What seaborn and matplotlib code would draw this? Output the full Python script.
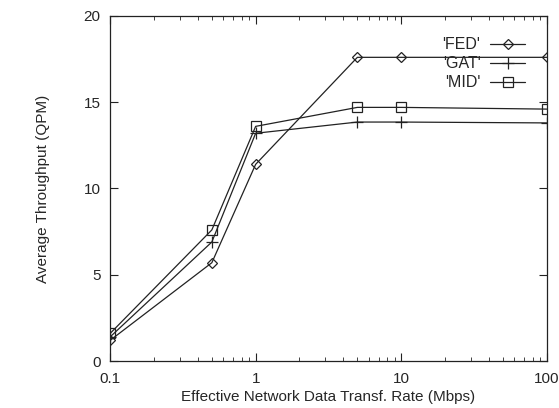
import numpy as np
import pandas as pd
import matplotlib
matplotlib.use('Agg')
import matplotlib.pyplot as plt
import seaborn as sns

rates = [0.1, 0.5, 1, 5, 10, 100]
fed = [1.2, 5.7, 11.4, 17.6, 17.6, 17.6]
gat = [1.4, 6.9, 13.2, 13.85, 13.85, 13.8]
mid = [1.6, 7.6, 13.6, 14.7, 14.7, 14.6]
series = ["'FED'", "'GAT'", "'MID'"]
markers = ['D', '+', 's']
msizes = [5, 8, 7]

df = pd.DataFrame({'rate': rates * 3,
                   'tput': fed + gat + mid,
                   'name': np.repeat(series, len(rates))})

sns.set_style('ticks')
plt.rcParams['font.family'] = ['Liberation Sans', 'DejaVu Sans']

fig, ax = plt.subplots(figsize=(5.59, 4.08), dpi=100)
for name, mk, ms in zip(series, markers, msizes):
    sub = df[df['name'] == name]
    sns.lineplot(data=sub, x='rate', y='tput', ax=ax, color='#222222', lw=0.9,
                 marker=mk, markersize=ms, markerfacecolor='none',
                 markeredgecolor='#222222', markeredgewidth=0.9, label=name)

ax.set_xscale('log')
ax.set_xlim(0.1, 100)
ax.set_ylim(0, 20)
ax.set_yticks([0, 5, 10, 15, 20])
ax.set_xticks([0.1, 1, 10, 100])
ax.set_xticklabels(['0.1', '1', '10', '100'])
ax.tick_params(which='both', direction='in', top=True, right=True, labelsize=11, color='#222222')
ax.tick_params(which='major', length=6)
ax.tick_params(which='minor', length=3)
ax.tick_params(axis='x', which='major', pad=8)
ax.tick_params(axis='y', which='major', pad=7)
for s in ax.spines.values():
    s.set_color('#222222')
    s.set_linewidth(0.9)
ax.set_xlabel('Effective Network Data Transf. Rate (Mbps)', fontsize=11, labelpad=3)
ax.set_ylabel('Average Throughput (QPM)', fontsize=11, labelpad=24)
leg = ax.legend(loc='upper right', markerfirst=False, frameon=False, fontsize=11.5,
                handlelength=2.2, labelspacing=0.25, borderaxespad=0.95, handletextpad=0.6)
plt.subplots_adjust(left=0.197, right=0.978, top=0.961, bottom=0.115)
plt.savefig('out.png', dpi=100)
